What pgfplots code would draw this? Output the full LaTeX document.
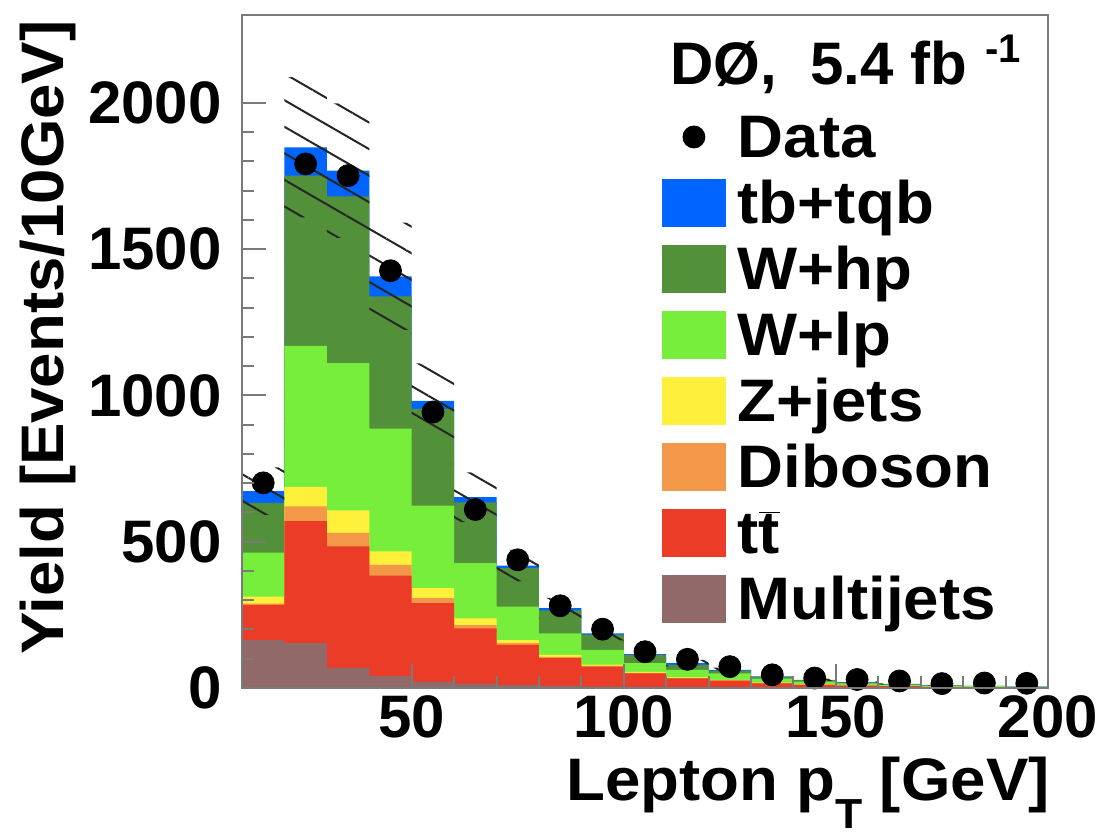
\documentclass[border=0pt]{standalone}
\usepackage{pgfplots}
\pgfplotsset{compat=1.18}
\usepackage{pgfplotstable}
\usepgfplotslibrary{fillbetween}
\usetikzlibrary{patterns.meta}
\usepackage{fontspec}
\setmainfont{Liberation Sans}
\newfontfamily\wf[FakeStretch=1.06]{Liberation Sans}
\newcommand\F[1]{\fontsize{#1}{#1}\selectfont\bfseries}
\newcommand\W[1]{\wf\fontsize{#1}{#1}\selectfont\bfseries}
\definecolor{cTB}{HTML}{0064FF}
\definecolor{cWhp}{HTML}{52913A}
\definecolor{cWlp}{HTML}{78EE3C}
\definecolor{cZ}{HTML}{FFF03C}
\definecolor{cDB}{HTML}{F29848}
\definecolor{cTT}{HTML}{EB3C28}
\definecolor{cMJ}{HTML}{916969}
\definecolor{frame}{HTML}{7A7A7A}

% cumulative stack tops, bins of 10 GeV (left edge)
\pgfplotstableread{
x   mj   tt   db   z    wlp  whp  tb
10  164  284  288  312  463  633  673
20  153  570  621  687  1169 1751 1848
30  70   484  530  607  1110 1680 1768
40  41   384  421  467  886  1338 1407
50  22   290  307  341  623  954  981
60  15   204  215  238  427  634  652
70  10   147  153  164  278  410  418
80  7    102  106  113  187  265  273
90  5    73   76   80   130  182  187
100 4    50   52   55   85   113  116
110 3    33   35   37   62   79   85
120 2    25   26   28   50   59   62
130 2    16   17   18   32   38   40
140 1    11   12   13   22   27   28
150 1    8    9    9    16   19   20
160 1    6    6    7    11   13   14
170 0.5  4    4    5    8    9    10
180 0.5  3    3    3.5  6    7    7
190 0.3  2    2    2.5  4    5    5
200 0.3  2    2    2.5  4    5    5
}\stack

% systematic uncertainty band
\pgfplotstableread{
x   up   lo
10  754  592
20  2088 1608
30  1998 1538
40  1590 1224
50  1109 853
60  737  567
70  472  364
80  308  238
90  211  163
100 131  101
110 96   74
120 70   54
130 45   35
140 32   24
150 23   17
160 16   12
170 11   9
180 8    6
190 6    4
200 6    4
}\band

% data
\pgfplotstableread{
x   y
15  701
25  1791
35  1751
45  1426
55  943
65  610
75  438
85  281
95  201
105 124
115 98
125 73
135 45
145 34
155 29
165 24
175 15
185 17
195 16
}\data

\begin{document}
\begin{tikzpicture}
\begin{axis}[
  at={(121pt,-344pt)}, anchor=south west,
  scale only axis, width=403pt, height=336.5pt,
  xmin=10, xmax=200, ymin=0, ymax=2300,
  axis on top,
  fill between/on layer=main,
  axis line style={frame, line width=1pt},
  tick style={frame, line width=1pt},
  tick align=inside, tick pos=left,
  major tick length=12pt, minor tick length=6pt,
  xtick={50,100,150,200}, minor x tick num=4,
  ytick={0,500,1000,1500,2000}, minor y tick num=4,
  /pgf/number format/assume math mode=true,
  /pgf/number format/1000 sep={},
  tick label style={font=\F{30}},
  yticklabel style={anchor=east, inner sep=0pt, xshift=-10pt},
  xticklabel style={anchor=north, inner sep=0pt, yshift=-3.5pt},
  xlabel={Lepton p\raisebox{-14pt}{\fontsize{21}{21}\selectfont T} [GeV]},
  ylabel={Yield [Events/10GeV]},
  label style={font=\W{30}},
  xlabel style={at={(axis description cs:1.0025,-0.1025)}, anchor=north east, inner sep=0pt},
  ylabel style={at={(axis description cs:-0.2754,0.9926)}, anchor=north east, inner sep=0pt},
  legend style={draw=none, fill=none, at={(rel axis cs:0.5211,0.8678)}, anchor=north west,
    inner sep=0pt, outer sep=0pt, row sep=0pt, column sep=6pt, font=\W{30},
    nodes={inner sep=0pt, text height=27pt, text depth=6pt}},
  legend cell align=left,
]
% legend entries
\addlegendimage{legend image code/.code={\fill[black] (15.75pt,0pt) circle (5.5pt);}}
\addlegendentry{Data}
\addlegendimage{legend image code/.code={\fill[cTB] (0pt,-11.75pt) rectangle (31.5pt,11.75pt);}}
\addlegendentry{tb+tqb}
\addlegendimage{legend image code/.code={\fill[cWhp] (0pt,-11.75pt) rectangle (31.5pt,11.75pt);}}
\addlegendentry{W+hp}
\addlegendimage{legend image code/.code={\fill[cWlp] (0pt,-11.75pt) rectangle (31.5pt,11.75pt);}}
\addlegendentry{W+lp}
\addlegendimage{legend image code/.code={\fill[cZ] (0pt,-11.75pt) rectangle (31.5pt,11.75pt);}}
\addlegendentry{Z+jets}
\addlegendimage{legend image code/.code={\fill[cDB] (0pt,-11.75pt) rectangle (31.5pt,11.75pt);}}
\addlegendentry{Diboson}
\addlegendimage{legend image code/.code={\fill[cTT] (0pt,-11.75pt) rectangle (31.5pt,11.75pt);}}
\addlegendentry{t$\overline{\mbox{t}}$}
\addlegendimage{legend image code/.code={\fill[cMJ] (0pt,-11.75pt) rectangle (31.5pt,11.75pt);}}
\addlegendentry{Multijets}

% stacked histograms (cumulative, drawn from top down)
\addplot[const plot, fill=cTB,  draw=none, forget plot] table[x=x, y=tb]  {\stack} \closedcycle;
\addplot[const plot, fill=cWhp, draw=none, forget plot] table[x=x, y=whp] {\stack} \closedcycle;
\addplot[const plot, fill=cWlp, draw=none, forget plot] table[x=x, y=wlp] {\stack} \closedcycle;
\addplot[const plot, fill=cZ,   draw=none, forget plot] table[x=x, y=z]   {\stack} \closedcycle;
\addplot[const plot, fill=cDB,  draw=none, forget plot] table[x=x, y=db]  {\stack} \closedcycle;
\addplot[const plot, fill=cTT,  draw=none, forget plot] table[x=x, y=tt]  {\stack} \closedcycle;
\addplot[const plot, fill=cMJ,  draw=none, forget plot] table[x=x, y=mj]  {\stack} \closedcycle;

% uncertainty band
\addplot[name path=up, const plot, draw=none, forget plot] table[x=x, y=up] {\band};
\addplot[name path=lo, const plot, draw=none, forget plot] table[x=x, y=lo] {\band};
\addplot[draw=none, pattern={Lines[angle=-30, distance=11.5pt, line width=1pt]}, pattern color=black!85, forget plot]
  fill between[of=up and lo];

% data
\addplot[only marks, mark=*, mark size=5.5pt, black, forget plot] table[x=x, y=y] {\data};

\node[anchor=base west, inner sep=0pt, font=\F{30}] at (rel axis cs:0.531,0.896)
  {DØ,\ \ 5.4 fb\hspace{9pt}\raisebox{11pt}{\fontsize{20}{20}\selectfont\bfseries -1}};
\end{axis}
\pgfresetboundingbox
\useasboundingbox (0,0) rectangle (555pt,-419.5pt);
\end{tikzpicture}
\end{document}
